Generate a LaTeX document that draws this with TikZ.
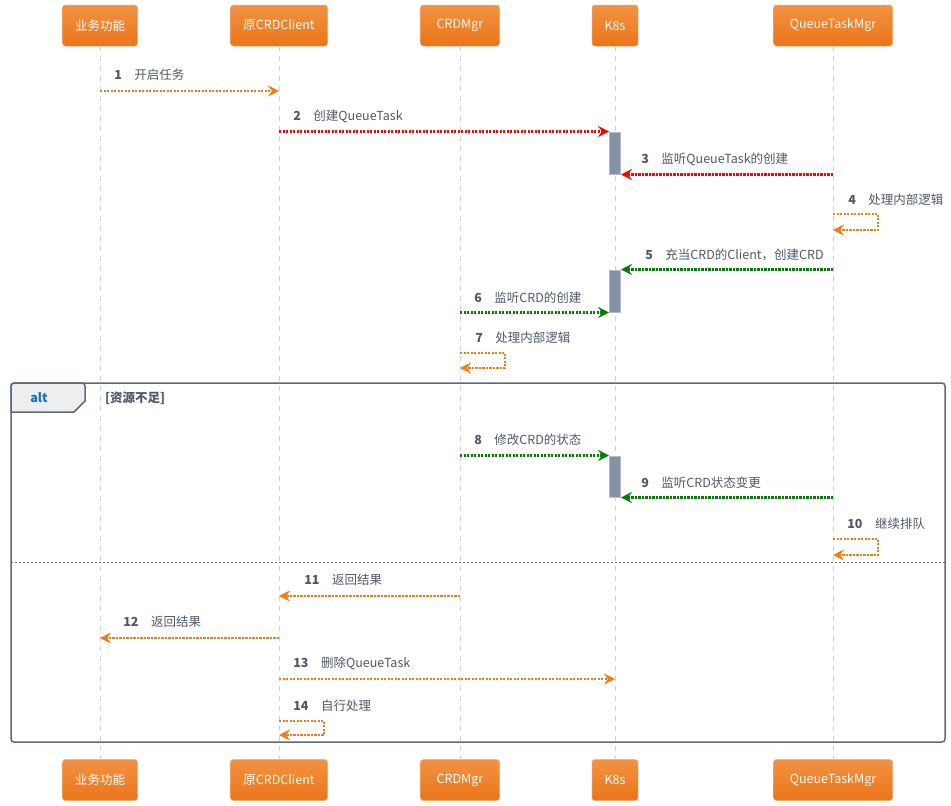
\documentclass[tikz,border=0pt]{standalone}
\usepackage{fontspec}
\setmainfont{Noto Sans CJK SC}
\usetikzlibrary{arrows.meta, positioning}
\definecolor{boxtop}{RGB}{242,146,66}
\definecolor{boxbot}{RGB}{235,117,25}
\definecolor{boxline}{RGB}{240,165,110}
\definecolor{msgorange}{RGB}{240,125,25}
\definecolor{msgred}{RGB}{255,0,0}
\definecolor{msggreen}{RGB}{0,128,0}
\definecolor{lifegray}{RGB}{205,208,212}
\definecolor{bargray}{RGB}{133,145,165}
\definecolor{frameline}{RGB}{94,106,122}
\definecolor{tabfill}{RGB}{238,238,238}
\definecolor{labeltext}{RGB}{78,89,106}
\definecolor{altblue}{RGB}{25,115,185}

\begin{document}
\begin{tikzpicture} [%
    x = 1pt, y = 1pt,
    font = \fontsize{12.5}{15}\selectfont,
    actor/.style = {%
      draw = boxline,
      line width = 0.5,
      rounded corners = 3,
      top color = boxtop,
      bottom color = boxbot,
      text = white,
      minimum height = 41,
      inner xsep = 0 },
    life/.style = {draw = lifegray, line width = 1, dash pattern = on 5 off 5},
    bar/.style = {%
      draw = bargray!60!white,
      fill = bargray,
      line width = 1,
      minimum width = 11,
      inner sep = 0 },
    msg/.style = {%
      line width = 2.6,
      dash pattern = on 2.2 off 1.3,
      -{Stealth[length=11pt, width=11pt, inset=4pt]} },
    msgO/.style = {msg, draw = msgorange},
    msgR/.style = {msg, draw = msgred},
    msgG/.style = {msg, draw = msggreen},
    lbl/.style = {anchor = west, text = labeltext, inner sep = 0},
    boldlbl/.style = {font = \fontsize{12.5}{15}\selectfont\bfseries},
    frame/.style = {draw = frameline, line width = 1.5, rounded corners = 3}
  ]

  \useasboundingbox[fill=white] (0,0) rectangle (951,-806);

  \node[actor, minimum width=75] (biz) at (100,-25.5) {业务功能};
  \node[actor, minimum width=97] (client) at (279,-25.5) {原CRDClient};
  \node[actor, minimum width=79] (crd) at (460,-25.5) {CRDMgr};
  \node[actor, minimum width=46] (k8s) at (615,-25.5) {K8s};
  \node[actor, minimum width=119] (qtm) at (833,-25.5) {QueueTaskMgr};

  \node[actor, minimum width=75] (biz2) at (100,-780) {业务功能};
  \node[actor, minimum width=97] (client2) at (279,-780) {原CRDClient};
  \node[actor, minimum width=79] (crd2) at (460,-780) {CRDMgr};
  \node[actor, minimum width=46] (k8s2) at (615,-780) {K8s};
  \node[actor, minimum width=119] (qtm2) at (833,-780) {QueueTaskMgr};

  \draw[life] (biz) -- (biz2);
  \draw[life] (client) -- (client2);
  \draw[life] (crd) -- (crd2);
  \draw[life] (k8s) -- (k8s2);
  \draw[life] (qtm) -- (qtm2);

  \node[bar, minimum height=42] (bar1) at (k8s |- 0,-153) {};
  \node[bar, minimum height=42] (bar2) at (k8s |- 0,-291) {};
  \node[bar, minimum height=41] (bar3) at (k8s |- 0,-476.5) {};

  \draw[msgO] (biz |- 0,-91) node[lbl, xshift=13, yshift=16] {\textbf{1}\quad 开启任务} -- (client |- 0,-91);
  \draw[msgR] (client |- bar1.north west) node[lbl, xshift=13, yshift=15.5] {\textbf{2}\quad 创建QueueTask} -- (bar1.north west);
  \draw[msgR] (qtm |- bar1.south east) -- (bar1.south east) node[lbl, xshift=19, yshift=15.5] {\textbf{3}\quad 监听QueueTask的创建};
  \draw[msgO] (qtm |- 0,-214) node[lbl, xshift=14, yshift=14] {\textbf{4}\quad 处理内部逻辑} -- ++(45,0) -- ++(0,-16) -- (qtm |- 0,-230);
  \draw[msgG] (qtm |- bar2.north east) -- (bar2.north east) node[lbl, xshift=23, yshift=15] {\textbf{5}\quad 充当CRD的Client，创建CRD};
  \draw[msgG] (crd |- bar2.south west) node[lbl, xshift=13, yshift=15] {\textbf{6}\quad 监听CRD的创建} -- (bar2.south west);
  \draw[msgO] (crd |- 0,-353) node[lbl, xshift=14, yshift=15] {\textbf{7}\quad 处理内部逻辑} -- ++(45,0) -- ++(0,-15) -- (crd |- 0,-368);

  \filldraw[frame, fill=tabfill] (11,-412) -- (11,-383) -- (85,-383) [sharp corners] -- (85,-401) -- (74,-412) -- cycle;
  \draw[frame] (11,-383) rectangle (945,-742);
  \node[boldlbl, text=altblue, inner sep=0] (alt) at (39,-398) {alt};
  \node[lbl, boldlbl] (cond) at (105,-398) {[资源不足]};

  \draw[msgG] (crd |- bar3.north west) node[lbl, xshift=13, yshift=15.5] {\textbf{8}\quad 修改CRD的状态} -- (bar3.north west);
  \draw[msgG] (qtm |- bar3.south east) -- (bar3.south east) node[lbl, xshift=19, yshift=15] {\textbf{9}\quad 监听CRD状态变更};
  \draw[msgO] (qtm |- 0,-539) node[lbl, xshift=13, yshift=15] {\textbf{10}\quad 继续排队} -- ++(45,0) -- ++(0,-16) -- (qtm |- 0,-555);

  \draw[frameline, line width=0.8, dash pattern=on 2 off 2] (11,-562) -- (945,-562);

  \draw[msgO] (crd |- 0,-596) -- (client |- 0,-596) node[lbl, xshift=24, yshift=16] {\textbf{11}\quad 返回结果};
  \draw[msgO] (client |- 0,-638) -- (biz |- 0,-638) node[lbl, xshift=22, yshift=16] {\textbf{12}\quad 返回结果};
  \draw[msgO] (client |- 0,-679) node[lbl, xshift=13, yshift=15.5] {\textbf{13}\quad 删除QueueTask} -- (k8s |- 0,-679);
  \draw[msgO] (client |- 0,-721) node[lbl, xshift=13, yshift=15.5] {\textbf{14}\quad 自行处理} -- ++(45,0) -- ++(0,-14) -- (client |- 0,-735);

\end{tikzpicture}
\end{document}
